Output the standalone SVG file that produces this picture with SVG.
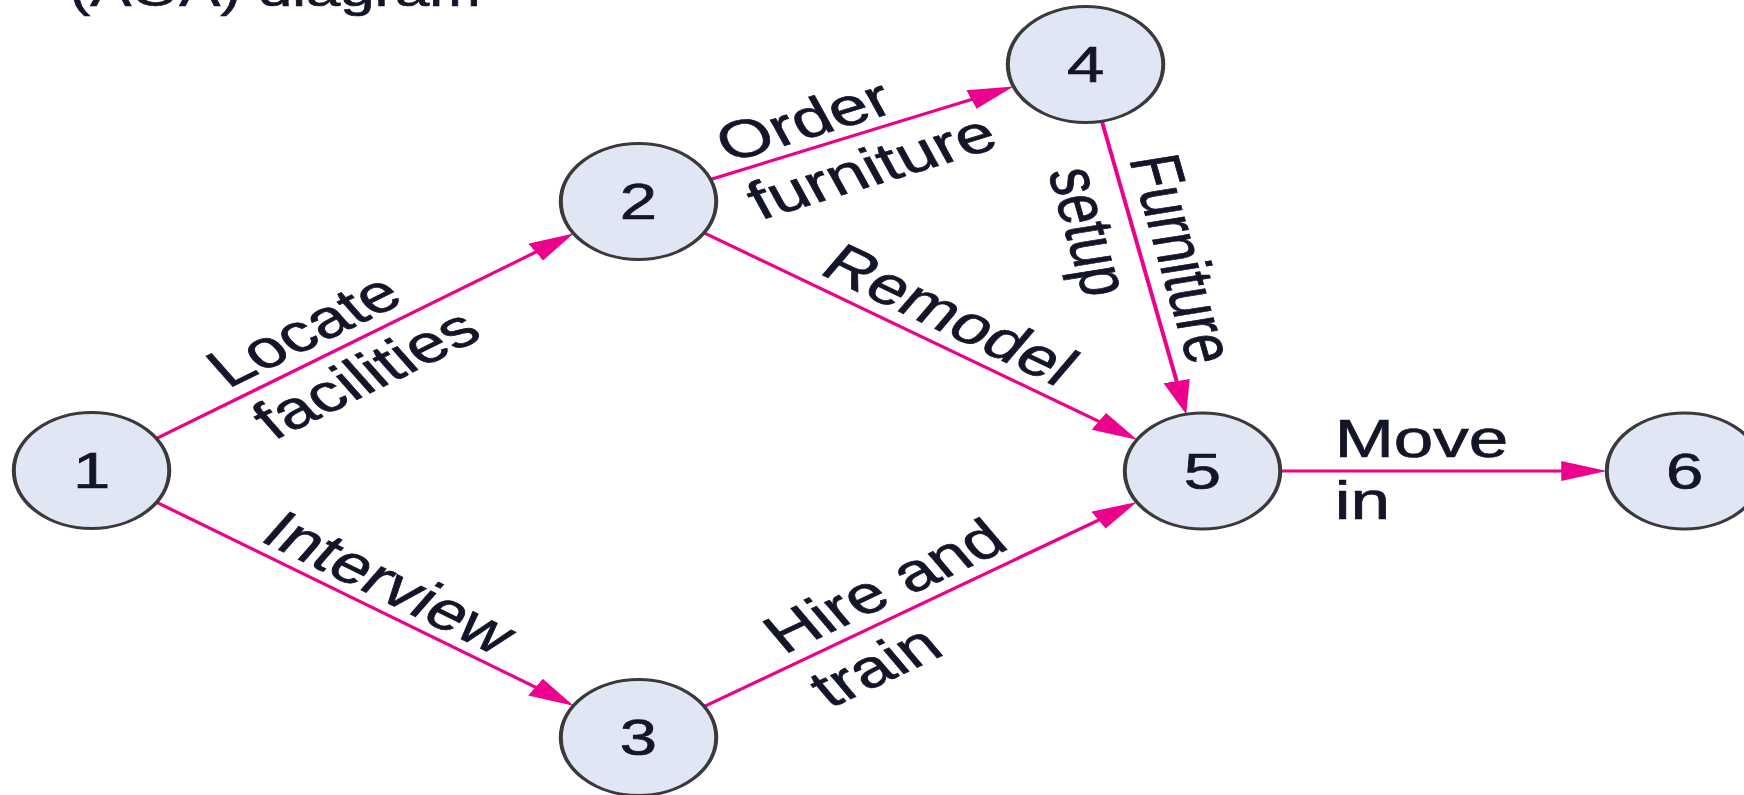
<svg xmlns="http://www.w3.org/2000/svg" width="1744" height="795" viewBox="0 0 1744 795">
<defs>
<style>
.nd{fill:#e1e6f4;stroke:#3a3a3a;stroke-width:3}
.t{font-family:"Liberation Sans",Arial,Helvetica,sans-serif;fill:#15152a;stroke:#15152a;stroke-width:0.7}
.num{font-size:50px;text-anchor:middle}
.lbl{font-size:53px}
.ed{stroke:#ec008c;stroke-width:3;fill:none;marker-end:url(#ah)}
</style>
<marker id="ah" markerUnits="userSpaceOnUse" markerWidth="36" markerHeight="22" refX="22" refY="10" orient="auto">
<path d="M0,0 L34,10 L0,20 Z" fill="#ec008c"/>
</marker>
</defs>
<rect width="1744" height="795" fill="#ffffff"/>
<g transform="scale(1.34,1)">
<text class="t" x="52" y="6" font-size="46">(AOA) diagram</text>
<g id="connectors">
<g id="e12"><line class="ed" x1="116.7" y1="438.6" x2="418.1" y2="240.0"/>
<g transform="translate(176.8,399) rotate(-33.4)"><text class="t lbl" x="0" y="-12">Locate</text><text class="t lbl" x="0" y="50">facilities</text></g></g>
<g id="e13"><line class="ed" x1="116.8" y1="502.2" x2="418.0" y2="699.2"/>
<g transform="translate(186.8,548) rotate(33.2)"><text class="t lbl" x="0" y="-10">Interview</text></g></g>
<g id="e24"><line class="ed" x1="530.2" y1="179.5" x2="745.3" y2="91.1"/>
<g transform="translate(547.7,172.2) rotate(-22.3)"><text class="t lbl" x="0" y="-10">Order</text><text class="t lbl" x="0" y="52">furniture</text></g></g>
<g id="e25"><line class="ed" x1="525.3" y1="232.8" x2="838.5" y2="433.2"/>
<g transform="translate(603.7,282.9) rotate(32.6)"><text class="t lbl" x="0" y="-12">Remodel</text></g></g>
<g id="e35"><line class="ed" x1="525.5" y1="706.5" x2="838.3" y2="508.4"/>
<g transform="translate(591.4,664.8) rotate(-32.3)"><text class="t lbl" x="0" y="-12">Hire and</text><text class="t lbl" x="0" y="52">train</text></g></g>
<g id="e45"><line class="ed" x1="822.3" y1="121.2" x2="882.7" y2="402.6"/>
<g transform="translate(830.9,161.3) rotate(77.9)"><text class="t lbl" x="0" y="-12">Furniture</text><text class="t lbl" x="0" y="50">setup</text></g></g>
<g id="e56"><line class="ed" x1="955.4" y1="471" x2="1187.1" y2="471"/>
<text class="t lbl" x="996" y="457">Move</text><text class="t lbl" x="996" y="519">in</text></g>
</g>
<g id="node1"><circle class="nd" cx="68.3" cy="470.5" r="58"/><text class="t num" x="68.3" y="488.5">1</text></g>
<g id="node2"><circle class="nd" cx="476.5" cy="201.5" r="58"/><text class="t num" x="476.5" y="219.5">2</text></g>
<g id="node3"><circle class="nd" cx="476.5" cy="737.5" r="58"/><text class="t num" x="476.5" y="755.5">3</text></g>
<g id="node4"><circle class="nd" cx="810.1" cy="64.5" r="58"/><text class="t num" x="810.1" y="82.5">4</text></g>
<g id="node5"><circle class="nd" cx="897.4" cy="471" r="58"/><text class="t num" x="897.4" y="489">5</text></g>
<g id="node6"><circle class="nd" cx="1257.1" cy="471" r="58"/><text class="t num" x="1257.1" y="489">6</text></g>
</g>
</svg>
